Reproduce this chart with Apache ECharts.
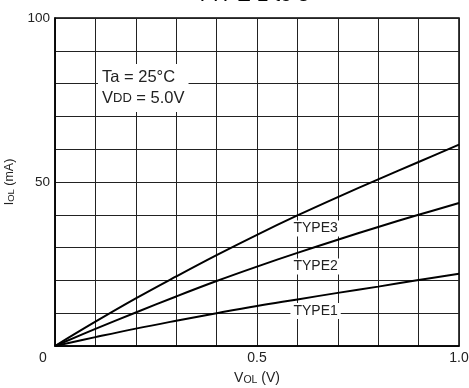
<!DOCTYPE html>
<html>
<head>
<meta charset="utf-8">
<script src="https://cdn.jsdelivr.net/npm/echarts@6/dist/echarts.min.js"></script>
<style>
  html, body { margin: 0; padding: 0; background: #fff; }
  #chart { width: 469px; height: 388px; }
</style>
</head>
<body>
<div id="chart"></div>
<script>
// Output low-level current vs output voltage
const vol = [0, 0.1, 0.2, 0.3, 0.4, 0.5, 0.6, 0.7, 0.8, 0.9, 1.0];
const type3 = [0, 7.4, 14.5, 21.2, 27.7, 33.9, 39.8, 45.4, 50.8, 56.1, 61.4];
const type2 = [0, 5.2, 10.2, 15.1, 19.8, 24.2, 28.4, 32.4, 36.3, 40.0, 43.6];
const type1 = [0, 2.7, 5.3, 7.7, 10.0, 12.2, 14.2, 16.2, 18.1, 20.1, 22.0];
const seriesNames = ['TYPE1', 'TYPE2', 'TYPE3'];
const xTickLabels = [0, 0.5, 1.0];
const yTickLabels = [50, 100];
// label anchor points [V, mA] for each curve name
const nameAnchors = { TYPE1: [0.645, 10.7], TYPE2: [0.645, 24.2], TYPE3: [0.645, 35.8] };

const FONT = '"Liberation Sans", Arial, Helvetica, sans-serif';
const chart = echarts.init(document.getElementById('chart'), null, { renderer: 'canvas' });

function pairs(ys) { return vol.map((v, i) => [v, ys[i]]); }

function curve(name, ys) {
  return {
    name: name,
    type: 'line',
    data: pairs(ys),
    smooth: 0.4,
    symbol: 'none',
    lineStyle: { color: '#000', width: 2 },
    z: 3,
    markPoint: {
      symbol: 'rect',
      symbolSize: 0,
      silent: true,
      data: [{ coord: nameAnchors[name] }],
      label: {
        show: true,
        position: 'inside',
        formatter: name,
        color: '#222',
        fontFamily: FONT,
        fontSize: 14,
        backgroundColor: '#fff',
        padding: [1, 3, 1, 3]
      }
    }
  };
}

const option = {
  animation: false,
  backgroundColor: '#fff',
  title: {
    text: 'TYPE 1 to 3',
    left: 196,
    top: -15,
    padding: 0,
    textStyle: { fontFamily: FONT, fontSize: 21, fontWeight: 'normal', color: '#000' }
  },
  grid: {
    left: 55, right: 10, top: 18, bottom: 42,
    outerBoundsMode: 'none',
    containLabel: false,
    show: true, borderColor: '#000', borderWidth: 1.5
  },
  xAxis: {
    type: 'value',
    min: 0, max: 1.0, interval: 0.1,
    name: '{v|V}{s|OL}{v| (V)}',
    nameLocation: 'middle',
    nameGap: 24,
    nameTextStyle: {
      rich: {
        v: { fontFamily: FONT, fontSize: 14, color: '#222' },
        s: { fontFamily: FONT, fontSize: 10.5, color: '#222', padding: [5, 0, 0, 0] }
      }
    },
    axisLine: { lineStyle: { color: '#000', width: 1.5 } },
    axisTick: { show: false },
    axisLabel: {
      margin: 5,
      color: '#222',
      fontFamily: FONT,
      fontSize: 14,
      formatter: function (v) {
        const r = Math.round(v * 10) / 10;
        const hit = xTickLabels.find(t => Math.abs(t - r) < 1e-9);
        if (hit === undefined) return '';
        if (hit === 0) return '{z|0}';
        return hit.toFixed(1);
      },
      rich: { z: { fontFamily: FONT, fontSize: 14, color: '#222', padding: [0, 24, 0, 0] } }
    },
    splitLine: { show: true, lineStyle: { color: '#222', width: 1 } }
  },
  yAxis: {
    type: 'value',
    min: 0, max: 100, interval: 10,
    name: '{v|I}{s|OL}{v| (mA)}',
    nameLocation: 'middle',
    nameGap: 36,
    nameRotate: 90,
    nameTextStyle: {
      rich: {
        v: { fontFamily: FONT, fontSize: 12.5, color: '#222' },
        s: { fontFamily: FONT, fontSize: 9.5, color: '#222', padding: [4, 0, 0, 0] }
      }
    },
    axisLine: { lineStyle: { color: '#000', width: 1.5 } },
    axisTick: { show: false },
    axisLabel: {
      margin: 5,
      color: '#222',
      fontFamily: FONT,
      fontSize: 13.5,
      formatter: function (v) {
        return yTickLabels.indexOf(Math.round(v)) >= 0 ? String(Math.round(v)) : '';
      }
    },
    splitLine: { show: true, lineStyle: { color: '#222', width: 1 } }
  },
  graphic: [
    {
      type: 'text',
      left: 98,
      top: 64,
      z: 10,
      style: {
        text: '{n|Ta = 25°C}\n{n|V}{c|DD}{n| = 5.0V}',
        fill: '#222',
        backgroundColor: '#fff',
        padding: [3, 4, 3, 4],
        rich: {
          n: { fontFamily: FONT, fontSize: 16.5, lineHeight: 21, fill: '#222' },
          c: { fontFamily: FONT, fontSize: 13, lineHeight: 21, fill: '#222' }
        }
      }
    }
  ],
  series: [
    curve(seriesNames[0], type1),
    curve(seriesNames[1], type2),
    curve(seriesNames[2], type3)
  ]
};

chart.setOption(option);
</script>
</body>
</html>
